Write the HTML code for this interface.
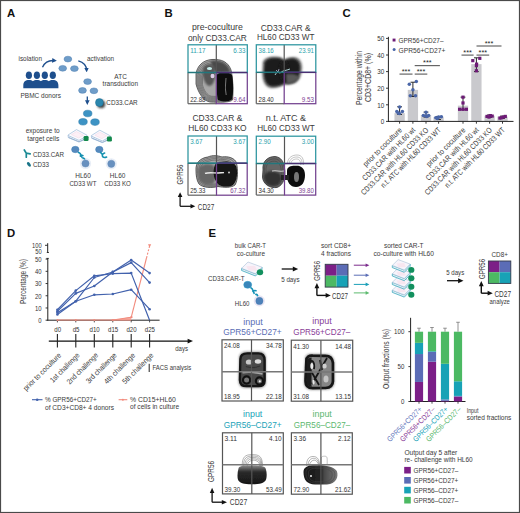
<!DOCTYPE html>
<html><head><meta charset="utf-8"><style>
html,body{margin:0;padding:0;background:#fff;}
svg{display:block;font-family:"Liberation Sans", sans-serif;}
</style></head><body>
<svg width="520" height="513" viewBox="0 0 520 513">
<defs><marker id="ahN" viewBox="0 0 10 10" refX="5" refY="5" markerWidth="3.6" markerHeight="3.6" orient="auto-start-reverse"><path d="M0,0 L10,5 L0,10 Z" fill="#1e4f8d"/></marker><filter id="shd" x="-50%" y="-50%" width="200%" height="200%"><feGaussianBlur stdDeviation="1"/></filter><filter id="bl1" x="-30%" y="-30%" width="160%" height="160%"><feGaussianBlur stdDeviation="1.2"/></filter><filter id="bl2" x="-30%" y="-30%" width="160%" height="160%"><feGaussianBlur stdDeviation="2.2"/></filter><filter id="bl05" x="-30%" y="-30%" width="160%" height="160%"><feGaussianBlur stdDeviation="0.6"/></filter><marker id="ahK" viewBox="0 0 10 10" refX="5" refY="5" markerWidth="3.4" markerHeight="3.4" orient="auto"><path d="M0,0 L10,5 L0,10 Z" fill="#111"/></marker><linearGradient id="gE3" x1="0" y1="0" x2="0" y2="1"><stop offset="0" stop-color="#8a8a8a"/><stop offset="0.35" stop-color="#2a2a2a"/><stop offset="1" stop-color="#161616"/></linearGradient><linearGradient id="gE4" x1="0" y1="0" x2="1" y2="0"><stop offset="0" stop-color="#1a1a1a"/><stop offset="0.5" stop-color="#222"/><stop offset="0.62" stop-color="#4a4a4a"/><stop offset="1" stop-color="#7a7a7a"/></linearGradient></defs>
<rect x="0" y="0" width="520" height="513" fill="#fff"/>
<rect x="0.5" y="0.5" width="519" height="512" fill="none" stroke="#4a4a4a" stroke-width="1.2"/>
<text x="7" y="13.2" font-size="11.34" fill="#111" font-weight="bold" dominant-baseline="central">A</text>
<text x="164.5" y="12.6" font-size="11.34" fill="#111" font-weight="bold" dominant-baseline="central">B</text>
<text x="342.6" y="12.8" font-size="11.34" fill="#111" font-weight="bold" dominant-baseline="central">C</text>
<text x="7" y="232.6" font-size="11.34" fill="#111" font-weight="bold" dominant-baseline="central">D</text>
<text x="208.5" y="232.5" font-size="11.34" fill="#111" font-weight="bold" dominant-baseline="central">E</text>
<text x="18.5" y="58.68" font-size="7.56" fill="#3a3a3a" textLength="23.5" lengthAdjust="spacingAndGlyphs" dominant-baseline="central">isolation</text>
<path d="M42.5,67.2 Q46,59.8 54.5,60.6" fill="none" stroke="#1e4f8d" stroke-width="1.3" marker-end="url(#ahN)"/>
<ellipse cx="28.9" cy="75.2" rx="3.1" ry="3.8" fill="#1e4f8d" stroke="none" stroke-width="0.5"/>
<ellipse cx="36.9" cy="75.2" rx="3.1" ry="3.8" fill="#1e4f8d" stroke="none" stroke-width="0.5"/>
<ellipse cx="44.8" cy="75.2" rx="3.1" ry="3.8" fill="#1e4f8d" stroke="none" stroke-width="0.5"/>
<ellipse cx="52.8" cy="75.2" rx="3.1" ry="3.8" fill="#1e4f8d" stroke="none" stroke-width="0.5"/>
<path d="M23.299999999999997,88.3 L23.299999999999997,85.5 C23.299999999999997,81.6 25.5,80.1 28.9,80.1 C32.3,80.1 34.5,81.6 34.5,85.5 L34.5,88.3 Z M31.299999999999997,88.3 L31.299999999999997,85.5 C31.299999999999997,81.6 33.5,80.1 36.9,80.1 C40.3,80.1 42.5,81.6 42.5,85.5 L42.5,88.3 Z M39.199999999999996,88.3 L39.199999999999996,85.5 C39.199999999999996,81.6 41.4,80.1 44.8,80.1 C48.199999999999996,80.1 50.4,81.6 50.4,85.5 L50.4,88.3 Z M47.199999999999996,88.3 L47.199999999999996,85.5 C47.199999999999996,81.6 49.4,80.1 52.8,80.1 C56.199999999999996,80.1 58.4,81.6 58.4,85.5 L58.4,88.3 Z " fill="#1e4f8d" stroke="none" stroke-width="1"/>
<text x="20.5" y="95.2" font-size="8.10" fill="#3a3a3a" textLength="40.5" lengthAdjust="spacingAndGlyphs" dominant-baseline="central">PBMC donors</text>
<ellipse cx="67.9" cy="59.1" rx="3.9" ry="2.9" fill="#6f9dc9" stroke="#4f7fb0" stroke-width="0.5"/>
<ellipse cx="62.7" cy="68.3" rx="3.9" ry="2.9" fill="#6f9dc9" stroke="#4f7fb0" stroke-width="0.5"/>
<ellipse cx="74.4" cy="68.6" rx="3.9" ry="2.9" fill="#6f9dc9" stroke="#4f7fb0" stroke-width="0.5"/>
<text x="87" y="58.48" font-size="7.56" fill="#3a3a3a" textLength="27" lengthAdjust="spacingAndGlyphs" dominant-baseline="central">activation</text>
<path d="M78.3,60.8 Q86.3,63 86.6,70" fill="none" stroke="#1e4f8d" stroke-width="1.3" marker-end="url(#ahN)"/>
<text x="120.6" y="76.6" font-size="8.10" fill="#3a3a3a" text-anchor="middle" textLength="12.5" lengthAdjust="spacingAndGlyphs" dominant-baseline="central">ATC</text>
<text x="102.6" y="83.94" font-size="8.10" fill="#3a3a3a" textLength="35.4" lengthAdjust="spacingAndGlyphs" dominant-baseline="central">transduction</text>
<ellipse cx="87.6" cy="81.6" rx="3.9" ry="2.9" fill="#6f9dc9" stroke="#4f7fb0" stroke-width="0.5"/>
<ellipse cx="82.5" cy="90.4" rx="3.9" ry="2.9" fill="#6f9dc9" stroke="#4f7fb0" stroke-width="0.5"/>
<ellipse cx="93.9" cy="90.8" rx="3.9" ry="2.9" fill="#6f9dc9" stroke="#4f7fb0" stroke-width="0.5"/>
<line x1="87.3" y1="96.5" x2="87.3" y2="102.6" stroke="#1e4f8d" stroke-width="1.3" marker-end="url(#ahN)"/>
<circle cx="101.2" cy="104.2" r="4.0" fill="#222" stroke="none" stroke-width="0.5" filter="url(#shd)" opacity="0.85"/>
<circle cx="99.4" cy="102.5" r="3.9" fill="#2b86ad" stroke="#1f6f94" stroke-width="0.5"/>
<text x="106.3" y="102.5" font-size="8.10" fill="#3a3a3a" textLength="31.4" lengthAdjust="spacingAndGlyphs" dominant-baseline="central">CD33.CAR</text>
<ellipse cx="87.7" cy="113.5" rx="4.3" ry="3.3" fill="#3d93c4" stroke="#2a7aa8" stroke-width="0.5"/>
<ellipse cx="83.0" cy="121.8" rx="4.3" ry="3.3" fill="#3d93c4" stroke="#2a7aa8" stroke-width="0.5"/>
<ellipse cx="95.0" cy="122.1" rx="4.3" ry="3.3" fill="#3d93c4" stroke="#2a7aa8" stroke-width="0.5"/>
<path d="M68,135 L76.5,129.6 L87,135.2 L87,138.5 L79,142 L68.3,137.6 Z" fill="#fbfbfe" stroke="#8fb0d4" stroke-width="0.6"/>
<path d="M68.3,135.6 L79,140.4 L87,136" fill="none" stroke="#7fa6cc" stroke-width="0.6"/>
<path d="M68.5,137.4 L79,141.8 L85,139" fill="none" stroke="#9ab5d2" stroke-width="1.0"/>
<path d="M71.5,134.6 L76.5,131.6 L83.5,135.2 L78.5,138 Z" fill="#fdf0f6" stroke="#efc8dc" stroke-width="0.35"/>
<rect x="83.6" y="136" width="5.0" height="5.0" fill="#13894c" stroke="none" stroke-width="1" rx="1.3"/>
<path d="M91.3,135.6 L99.8,130.2 L110.3,135.79999999999998 L110.3,139.1 L102.3,142.6 L91.6,138.2 Z" fill="#fbfbfe" stroke="#8fb0d4" stroke-width="0.6"/>
<path d="M91.6,136.2 L102.3,141.0 L110.3,136.6" fill="none" stroke="#7fa6cc" stroke-width="0.6"/>
<path d="M91.8,138.0 L102.3,142.4 L108.3,139.6" fill="none" stroke="#9ab5d2" stroke-width="1.0"/>
<path d="M94.8,135.2 L99.8,132.2 L106.8,135.79999999999998 L101.8,138.6 Z" fill="#fdf0f6" stroke="#efc8dc" stroke-width="0.35"/>
<rect x="106.89999999999999" y="136.6" width="5.0" height="5.0" fill="#13894c" stroke="none" stroke-width="1" rx="1.3"/>
<text x="25.7" y="130.97" font-size="7.56" fill="#3a3a3a" textLength="33.9" lengthAdjust="spacingAndGlyphs" dominant-baseline="central">exposure to</text>
<text x="27.3" y="138.88" font-size="7.56" fill="#3a3a3a" textLength="32" lengthAdjust="spacingAndGlyphs" dominant-baseline="central">target cells</text>
<path d="M24.3,150 L26.3,153.2 L30.2,153.8 M26.3,153.2 L26.3,157.2" fill="none" stroke="#1b8a94" stroke-width="1.7" stroke-linecap="round" stroke-linejoin="round"/>
<text x="33" y="154" font-size="8.10" fill="#3a3a3a" textLength="31" lengthAdjust="spacingAndGlyphs" dominant-baseline="central">CD33.CAR</text>
<ellipse cx="28.9" cy="164.4" rx="2.6" ry="1.5" fill="#1a7488" stroke="none" stroke-width="0.5" transform="rotate(52 28.9 164.4)"/>
<text x="33" y="164" font-size="8.10" fill="#3a3a3a" textLength="16" lengthAdjust="spacingAndGlyphs" dominant-baseline="central">CD33</text>
<circle cx="85.5" cy="163.5" r="5.6" fill="#e8eef7" stroke="none" stroke-width="0.5"/>
<circle cx="111.3" cy="163.8" r="5.6" fill="#e8eef7" stroke="none" stroke-width="0.5"/>
<ellipse cx="75.3" cy="149.5" rx="3.7" ry="3.2" fill="#5689bd" stroke="#3f7fb5" stroke-width="0.5"/>
<ellipse cx="99.3" cy="149.5" rx="3.7" ry="3.2" fill="#5689bd" stroke="#3f7fb5" stroke-width="0.5"/>
<circle cx="85.5" cy="163.5" r="3.6" fill="#6790bf" stroke="#5a84b4" stroke-width="0.4"/>
<circle cx="111.3" cy="163.8" r="3.6" fill="#6790bf" stroke="#5a84b4" stroke-width="0.4"/>
<path d="M77.8,152.3 Q80.5,152.8 81,155.5 L82.3,158 M79.8,156.5 Q81.5,154.6 83.5,155.8 M82.5,158.6 Q84,157.3 84.8,159.6" fill="none" stroke="#138fb0" stroke-width="1.5"/>
<path d="M100.6,152.4 L102.4,154.6 M104.6,153.0 Q101.6,154.0 102.6,156.6 Q104.2,158.2 106.6,157.0" fill="none" stroke="#1592b0" stroke-width="1.6" stroke-linecap="round"/>
<text x="83" y="175.6" font-size="8.10" fill="#3a3a3a" text-anchor="middle" textLength="15.5" lengthAdjust="spacingAndGlyphs" dominant-baseline="central">HL60</text>
<text x="82.9" y="183.1" font-size="8.10" fill="#3a3a3a" text-anchor="middle" textLength="27" lengthAdjust="spacingAndGlyphs" dominant-baseline="central">CD33 WT</text>
<text x="117.6" y="175.6" font-size="8.10" fill="#3a3a3a" text-anchor="middle" textLength="15.5" lengthAdjust="spacingAndGlyphs" dominant-baseline="central">HL60</text>
<text x="117.6" y="183.1" font-size="8.10" fill="#3a3a3a" text-anchor="middle" textLength="26.5" lengthAdjust="spacingAndGlyphs" dominant-baseline="central">CD33 KO</text>
<text x="217.4" y="26.02" font-size="9.72" fill="#3a3a3a" text-anchor="middle" textLength="51" lengthAdjust="spacingAndGlyphs" dominant-baseline="central">pre-coculture</text>
<text x="217.4" y="37" font-size="9.72" fill="#3a3a3a" text-anchor="middle" textLength="59" lengthAdjust="spacingAndGlyphs" dominant-baseline="central">only CD33.CAR</text>
<text x="285.7" y="27.2" font-size="9.72" fill="#3a3a3a" text-anchor="middle" textLength="50" lengthAdjust="spacingAndGlyphs" dominant-baseline="central">CD33.CAR &amp;</text>
<text x="285.7" y="36.6" font-size="9.72" fill="#3a3a3a" text-anchor="middle" textLength="57.5" lengthAdjust="spacingAndGlyphs" dominant-baseline="central">HL60 CD33 WT</text>
<text x="217.4" y="117.8" font-size="9.72" fill="#3a3a3a" text-anchor="middle" textLength="50" lengthAdjust="spacingAndGlyphs" dominant-baseline="central">CD33.CAR &amp;</text>
<text x="217.4" y="127.8" font-size="9.72" fill="#3a3a3a" text-anchor="middle" textLength="58.5" lengthAdjust="spacingAndGlyphs" dominant-baseline="central">HL60 CD33 KO</text>
<text x="285.9" y="117.8" font-size="9.72" fill="#3a3a3a" text-anchor="middle" textLength="40.5" lengthAdjust="spacingAndGlyphs" dominant-baseline="central">n.t. ATC &amp;</text>
<text x="285.9" y="127.8" font-size="9.72" fill="#3a3a3a" text-anchor="middle" textLength="57.5" lengthAdjust="spacingAndGlyphs" dominant-baseline="central">HL60 CD33 WT</text>
<g><path d="M196,74 C197,66 203,60 212,59.5 C222,59 228,62 231,70 C233,78 233.5,92 232.5,100 C230,102.5 220,102.5 210,102 C203,101 198,92 196,84 Z" fill="#a8a8a8" stroke="#444" stroke-width="0.8" filter="url(#bl05)"/><path d="M196,74 C197,66 203,60 212,59.5 C222,59 228,62 231,70 C233,78 233.5,92 232.5,100 C230,102.5 220,102.5 210,102 C203,101 198,92 196,84 Z" fill="none" stroke="#4a4a4a" stroke-width="0.53" transform="translate(214 86) scale(0.94) translate(-214 -86)"/><path d="M196,74 C197,66 203,60 212,59.5 C222,59 228,62 231,70 C233,78 233.5,92 232.5,100 C230,102.5 220,102.5 210,102 C203,101 198,92 196,84 Z" fill="none" stroke="#4a4a4a" stroke-width="0.57" transform="translate(214 86) scale(0.88) translate(-214 -86)"/><path d="M196,74 C197,66 203,60 212,59.5 C222,59 228,62 231,70 C233,78 233.5,92 232.5,100 C230,102.5 220,102.5 210,102 C203,101 198,92 196,84 Z" fill="none" stroke="#4a4a4a" stroke-width="0.61" transform="translate(214 86) scale(0.82) translate(-214 -86)"/><path d="M196,74 C197,66 203,60 212,59.5 C222,59 228,62 231,70 C233,78 233.5,92 232.5,100 C230,102.5 220,102.5 210,102 C203,101 198,92 196,84 Z" fill="none" stroke="#4a4a4a" stroke-width="0.66" transform="translate(214 86) scale(0.76) translate(-214 -86)"/><path d="M196,74 C197,66 203,60 212,59.5 C222,59 228,62 231,70 C233,78 233.5,92 232.5,100 C230,102.5 220,102.5 210,102 C203,101 198,92 196,84 Z" fill="none" stroke="#4a4a4a" stroke-width="0.71" transform="translate(214 86) scale(0.7) translate(-214 -86)"/><path d="M196,74 C197,66 203,60 212,59.5 C222,59 228,62 231,70 C233,78 233.5,92 232.5,100 C230,102.5 220,102.5 210,102 C203,101 198,92 196,84 Z" fill="none" stroke="#4a4a4a" stroke-width="0.78" transform="translate(214 86) scale(0.64) translate(-214 -86)"/><path d="M211,61 C221,60 228,63 230,72 L216,73 C213,69 211,65 211,61 Z" fill="#4a4a4a" filter="url(#bl1)"/><path d="M203,68 C206,63 213,63 215,69 C216,77 214,86 209,86 C204,84 202,76 203,68 Z" fill="#555" filter="url(#bl1)"/><path d="M216.5,75 C219,71.5 229,71 232,75 C233.5,82 233.5,94 232,99.5 C229,102 221,102 218,100 C216.5,95 216.5,85 216.5,75 Z" fill="#111" filter="url(#bl05)"/><path d="M226,78 L225.3,88 L226.2,95" stroke="#777" stroke-width="1" fill="none" filter="url(#bl05)"/><ellipse cx="209.5" cy="68.5" rx="2.6" ry="1.6" fill="#c4ecea" filter="url(#bl05)"/><ellipse cx="212.5" cy="76" rx="2" ry="2.2" fill="#dccde6" filter="url(#bl05)"/></g>
<line x1="188" y1="72.5" x2="188" y2="103.69999999999999" stroke="#666" stroke-width="1.25"/>
<line x1="188" y1="103.69999999999999" x2="216.3" y2="103.69999999999999" stroke="#666" stroke-width="1.25"/>
<line x1="216.3" y1="44.8" x2="216.3" y2="72.5" stroke="#555" stroke-width="1.2"/>
<rect x="216.3" y="72.5" width="31.0" height="31.19999999999999" fill="none" stroke="#73418f" stroke-width="1.25"/>
<rect x="188" y="44.8" width="59.3" height="27.700000000000003" fill="none" stroke="#2b959f" stroke-width="1.25"/>
<line x1="188" y1="72.5" x2="216.3" y2="72.5" stroke="#22767c" stroke-width="1.3"/>
<line x1="216.3" y1="72.5" x2="247.3" y2="72.5" stroke="#4a2f72" stroke-width="1.3"/>
<text x="190.2" y="50.599999999999994" font-size="7.13" fill="#2a9fac" textLength="15.25" lengthAdjust="spacingAndGlyphs" dominant-baseline="central">11.17</text>
<text x="245.5" y="50.599999999999994" font-size="7.13" fill="#2a9fac" text-anchor="end" textLength="12.2" lengthAdjust="spacingAndGlyphs" dominant-baseline="central">6.33</text>
<text x="190.2" y="99.49999999999999" font-size="7.13" fill="#333" textLength="15.25" lengthAdjust="spacingAndGlyphs" dominant-baseline="central">22.88</text>
<text x="245.5" y="99.49999999999999" font-size="7.13" fill="#7e3f93" text-anchor="end" textLength="12.2" lengthAdjust="spacingAndGlyphs" dominant-baseline="central">9.64</text>
<g><path d="M262.5,64 C262,58.5 268,56.5 274,56.5 C279,56 283,57.5 284.5,60 C286,57.5 291,56.5 295,57 C300,58 302.5,62 302.3,68 C302,74 300,79 297,82 C294,84.5 289,85 285,84.5 C282,86.5 277,88.5 271,88.2 C265,87.5 262.5,82 262,74 Z" fill="#8a8a8a" filter="url(#bl1)"/><path d="M262.5,64 C262,58.5 268,56.5 274,56.5 C279,56 283,57.5 284.5,60 C286,57.5 291,56.5 295,57 C300,58 302.5,62 302.3,68 C302,74 300,79 297,82 C294,84.5 289,85 285,84.5 C282,86.5 277,88.5 271,88.2 C265,87.5 262.5,82 262,74 Z" fill="#1a1a1a" transform="translate(281 72) scale(0.9) translate(-281 -72)" filter="url(#bl1)"/><ellipse cx="284" cy="70.5" rx="5" ry="10" fill="#1a1a1a" filter="url(#bl1)"/><path d="M286,74 C291,73 297,74 299.5,77 C297,82 291,84 286.5,83.5 Z" fill="#5a5a5a" filter="url(#bl1)"/><path d="M275,75 l2,-3 l3,1 l3,-2 l4,-1 l3,-1" stroke="#b5dede" stroke-width="0.9" fill="none" filter="url(#bl05)"/><path d="M276,70 l2,2 l1,-3" stroke="#cce" stroke-width="0.7" fill="none" filter="url(#bl05)"/></g>
<line x1="256.3" y1="72.4" x2="256.3" y2="103.69999999999999" stroke="#666" stroke-width="1.25"/>
<line x1="256.3" y1="103.69999999999999" x2="284.2" y2="103.69999999999999" stroke="#666" stroke-width="1.25"/>
<line x1="284.2" y1="44.8" x2="284.2" y2="72.4" stroke="#555" stroke-width="1.2"/>
<rect x="284.2" y="72.4" width="31.600000000000023" height="31.299999999999983" fill="none" stroke="#73418f" stroke-width="1.25"/>
<rect x="256.3" y="44.8" width="59.5" height="27.60000000000001" fill="none" stroke="#2b959f" stroke-width="1.25"/>
<line x1="256.3" y1="72.4" x2="284.2" y2="72.4" stroke="#22767c" stroke-width="1.3"/>
<line x1="284.2" y1="72.4" x2="315.8" y2="72.4" stroke="#4a2f72" stroke-width="1.3"/>
<text x="258.5" y="50.599999999999994" font-size="7.13" fill="#2a9fac" textLength="15.25" lengthAdjust="spacingAndGlyphs" dominant-baseline="central">38.16</text>
<text x="314.0" y="50.599999999999994" font-size="7.13" fill="#2a9fac" text-anchor="end" textLength="15.25" lengthAdjust="spacingAndGlyphs" dominant-baseline="central">23.91</text>
<text x="258.5" y="99.49999999999999" font-size="7.13" fill="#333" textLength="15.25" lengthAdjust="spacingAndGlyphs" dominant-baseline="central">28.40</text>
<text x="314.0" y="99.49999999999999" font-size="7.13" fill="#7e3f93" text-anchor="end" textLength="12.2" lengthAdjust="spacingAndGlyphs" dominant-baseline="central">9.53</text>
<g><path d="M196,170 C195.5,163 200,158 208,157 C212,155 218,155.5 222,157 C228,156 235,158 236.5,163 C238,170 238,180 235,185 C231,188 224,187.5 218,186.5 C212,188 203,188 199,184 C196.5,180 196,175 196,170 Z" fill="#a5a5a5" stroke="#333" stroke-width="0.8" filter="url(#bl05)"/><path d="M196,170 C195.5,163 200,158 208,157 C212,155 218,155.5 222,157 C228,156 235,158 236.5,163 C238,170 238,180 235,185 C231,188 224,187.5 218,186.5 C212,188 203,188 199,184 C196.5,180 196,175 196,170 Z" fill="none" stroke="#444" stroke-width="0.54" transform="translate(214 174) scale(0.92) translate(-214 -174)"/><path d="M196,170 C195.5,163 200,158 208,157 C212,155 218,155.5 222,157 C228,156 235,158 236.5,163 C238,170 238,180 235,185 C231,188 224,187.5 218,186.5 C212,188 203,188 199,184 C196.5,180 196,175 196,170 Z" fill="none" stroke="#444" stroke-width="0.60" transform="translate(214 174) scale(0.84) translate(-214 -174)"/><path d="M196,170 C195.5,163 200,158 208,157 C212,155 218,155.5 222,157 C228,156 235,158 236.5,163 C238,170 238,180 235,185 C231,188 224,187.5 218,186.5 C212,188 203,188 199,184 C196.5,180 196,175 196,170 Z" fill="none" stroke="#444" stroke-width="0.66" transform="translate(214 174) scale(0.76) translate(-214 -174)"/><path d="M198,171 C199,164 207,163 213,165 C217,169 217,180 213,184 C207,186 200,184 198.5,178 Z" fill="#666" filter="url(#bl1)"/><path d="M215.5,164 C223,160 234,161 236.5,167 C238,175 236.5,184 231,186 C224,187.5 218,186 216,181 C213,177 213,168 215.5,164 Z" fill="#121212" filter="url(#bl05)"/><path d="M205,173.5 C210,171.5 216,174 224,172.5" stroke="#e8e8e8" stroke-width="1.4" fill="none" filter="url(#bl05)"/><path d="M208,158 C214,156 222,158 230,158.5" stroke="#888" stroke-width="0.6" fill="none"/><circle cx="229" cy="172.5" r="1" fill="#ccc"/></g>
<line x1="188" y1="163.2" x2="188" y2="195.2" stroke="#666" stroke-width="1.25"/>
<line x1="188" y1="195.2" x2="216.5" y2="195.2" stroke="#666" stroke-width="1.25"/>
<line x1="216.5" y1="136" x2="216.5" y2="163.2" stroke="#555" stroke-width="1.2"/>
<rect x="216.5" y="163.2" width="30.69999999999999" height="32.0" fill="none" stroke="#73418f" stroke-width="1.25"/>
<rect x="188" y="136" width="59.2" height="27.19999999999999" fill="none" stroke="#2b959f" stroke-width="1.25"/>
<line x1="188" y1="163.2" x2="216.5" y2="163.2" stroke="#22767c" stroke-width="1.3"/>
<line x1="216.5" y1="163.2" x2="247.2" y2="163.2" stroke="#4a2f72" stroke-width="1.3"/>
<text x="190.2" y="141.8" font-size="7.13" fill="#2a9fac" textLength="12.2" lengthAdjust="spacingAndGlyphs" dominant-baseline="central">3.67</text>
<text x="245.39999999999998" y="141.8" font-size="7.13" fill="#2a9fac" text-anchor="end" textLength="12.2" lengthAdjust="spacingAndGlyphs" dominant-baseline="central">3.67</text>
<text x="190.2" y="191.0" font-size="7.13" fill="#333" textLength="15.25" lengthAdjust="spacingAndGlyphs" dominant-baseline="central">25.33</text>
<text x="245.39999999999998" y="191.0" font-size="7.13" fill="#7e3f93" text-anchor="end" textLength="15.25" lengthAdjust="spacingAndGlyphs" dominant-baseline="central">67.32</text>
<g><path d="M263,170 C262,161 268,156.5 275,156.5 C281,157 284,162 284.5,168 C286,176 284,185 277,187.5 C270,188.5 263,184 262.5,177 Z" fill="#666" stroke="#333" stroke-width="0.8" filter="url(#bl05)"/><path d="M263,170 C262,161 268,156.5 275,156.5 C281,157 284,162 284.5,168 C286,176 284,185 277,187.5 C270,188.5 263,184 262.5,177 Z" fill="none" stroke="#444" stroke-width="0.71" transform="translate(273 172) scale(0.85) translate(-273 -172)"/><path d="M263,170 C262,161 268,156.5 275,156.5 C281,157 284,162 284.5,168 C286,176 284,185 277,187.5 C270,188.5 263,184 262.5,177 Z" fill="none" stroke="#444" stroke-width="0.86" transform="translate(273 172) scale(0.7) translate(-273 -172)"/><path d="M264,176 C266,170 274,170 280,174 C283,180 280,186 273,186 C267,186 264,182 264,176 Z" fill="#333" filter="url(#bl1)"/><path d="M287.5,163 C288,157 293,155 297,155 C302,155 304,159 303.5,165" fill="none" stroke="#888" stroke-width="0.50" transform="translate(296 165) scale(1.0) translate(-296 -165)"/><path d="M287.5,163 C288,157 293,155 297,155 C302,155 304,159 303.5,165" fill="none" stroke="#888" stroke-width="0.62" transform="translate(296 165) scale(0.8) translate(-296 -165)"/><path d="M287.5,163 C288,157 293,155 297,155 C302,155 304,159 303.5,165" fill="none" stroke="#888" stroke-width="0.83" transform="translate(296 165) scale(0.6) translate(-296 -165)"/><path d="M287,171 C287,166 292,165.5 296,165.7 C301,165.5 305,168 305,175 C305,182 302,187 296,187 C290,187 287,182 287,176 Z" fill="#111" filter="url(#bl05)"/><ellipse cx="296.5" cy="177" rx="2.5" ry="5" fill="#777" filter="url(#bl05)"/><rect x="281" y="175" width="8" height="5" fill="#222" filter="url(#bl05)"/><path d="M272,171 C276,170 280,172 284,171" stroke="#ccc" stroke-width="1" fill="none" filter="url(#bl05)"/></g>
<line x1="256.3" y1="163.5" x2="256.3" y2="195.1" stroke="#666" stroke-width="1.25"/>
<line x1="256.3" y1="195.1" x2="284.5" y2="195.1" stroke="#666" stroke-width="1.25"/>
<line x1="284.5" y1="136.2" x2="284.5" y2="163.5" stroke="#555" stroke-width="1.2"/>
<rect x="284.5" y="163.5" width="31.19999999999999" height="31.599999999999994" fill="none" stroke="#73418f" stroke-width="1.25"/>
<rect x="256.3" y="136.2" width="59.4" height="27.30000000000001" fill="none" stroke="#2b959f" stroke-width="1.25"/>
<line x1="256.3" y1="163.5" x2="284.5" y2="163.5" stroke="#22767c" stroke-width="1.3"/>
<line x1="284.5" y1="163.5" x2="315.7" y2="163.5" stroke="#4a2f72" stroke-width="1.3"/>
<text x="258.5" y="142.0" font-size="7.13" fill="#2a9fac" textLength="12.2" lengthAdjust="spacingAndGlyphs" dominant-baseline="central">2.90</text>
<text x="313.9" y="142.0" font-size="7.13" fill="#2a9fac" text-anchor="end" textLength="12.2" lengthAdjust="spacingAndGlyphs" dominant-baseline="central">3.00</text>
<text x="258.5" y="190.9" font-size="7.13" fill="#333" textLength="15.25" lengthAdjust="spacingAndGlyphs" dominant-baseline="central">34.30</text>
<text x="313.9" y="190.9" font-size="7.13" fill="#7e3f93" text-anchor="end" textLength="15.25" lengthAdjust="spacingAndGlyphs" dominant-baseline="central">39.80</text>
<text x="180" y="174.6" font-size="8.64" fill="#3a3a3a" text-anchor="middle" textLength="20" lengthAdjust="spacingAndGlyphs" transform="rotate(-90 180 174.6)" dominant-baseline="central">GPR56</text>
<line x1="180.1" y1="195.5" x2="180.1" y2="206.3" stroke="#111" stroke-width="1.25"/>
<path d="M180.1,192.2 L177.8,197 L182.4,197 Z" fill="#111" stroke="none" stroke-width="1"/>
<line x1="180.1" y1="206.3" x2="191.5" y2="206.3" stroke="#111" stroke-width="1.25"/>
<path d="M195.3,206.3 L190.5,204 L190.5,208.6 Z" fill="#111" stroke="none" stroke-width="1"/>
<text x="197.8" y="206.2" font-size="9.50" fill="#3a3a3a" textLength="16.4" lengthAdjust="spacingAndGlyphs" dominant-baseline="central">CD27</text>
<rect x="394.45000000000005" y="113.10000000000001" width="10.3" height="8.299999999999997" fill="#c9c9cd" stroke="none" stroke-width="1"/>
<rect x="407.75" y="89.86000000000001" width="10.3" height="31.539999999999992" fill="#c9c9cd" stroke="none" stroke-width="1"/>
<rect x="420.85" y="114.926" width="10.3" height="6.474000000000004" fill="#c9c9cd" stroke="none" stroke-width="1"/>
<rect x="433.45000000000005" y="117.084" width="10.3" height="4.3160000000000025" fill="#c9c9cd" stroke="none" stroke-width="1"/>
<rect x="457.85" y="105.63000000000001" width="10.3" height="15.769999999999996" fill="#c9c9cd" stroke="none" stroke-width="1"/>
<rect x="471.25" y="64.13000000000001" width="10.3" height="57.269999999999996" fill="#c9c9cd" stroke="none" stroke-width="1"/>
<rect x="484.45000000000005" y="115.756" width="10.3" height="5.6440000000000055" fill="#c9c9cd" stroke="none" stroke-width="1"/>
<rect x="497.35" y="116.58600000000001" width="10.3" height="4.813999999999993" fill="#c9c9cd" stroke="none" stroke-width="1"/>
<line x1="399.6" y1="114.42800000000001" x2="399.6" y2="106.792" stroke="#2a2a2a" stroke-width="1.0"/>
<line x1="397.20000000000005" y1="106.792" x2="402.0" y2="106.792" stroke="#2a2a2a" stroke-width="1.0"/>
<line x1="397.20000000000005" y1="114.42800000000001" x2="402.0" y2="114.42800000000001" stroke="#2a2a2a" stroke-width="1.0"/>
<circle cx="396.8" cy="111.44000000000001" r="1.75" fill="#4a66a8" stroke="none" stroke-width="0.5"/>
<circle cx="402.40000000000003" cy="111.44000000000001" r="1.75" fill="#4a66a8" stroke="none" stroke-width="0.5"/>
<circle cx="399.40000000000003" cy="113.432" r="1.75" fill="#4a66a8" stroke="none" stroke-width="0.5"/>
<circle cx="399.6" cy="106.95800000000001" r="1.75" fill="#4a66a8" stroke="none" stroke-width="0.5"/>
<circle cx="398.20000000000005" cy="113.10000000000001" r="1.75" fill="#4a66a8" stroke="none" stroke-width="0.5"/>
<line x1="412.9" y1="96.5" x2="412.9" y2="82.224" stroke="#2a2a2a" stroke-width="1.0"/>
<line x1="410.5" y1="82.224" x2="415.29999999999995" y2="82.224" stroke="#2a2a2a" stroke-width="1.0"/>
<line x1="410.5" y1="96.5" x2="415.29999999999995" y2="96.5" stroke="#2a2a2a" stroke-width="1.0"/>
<circle cx="409.29999999999995" cy="84.21600000000001" r="1.75" fill="#4a66a8" stroke="none" stroke-width="0.5"/>
<circle cx="416.29999999999995" cy="81.56" r="1.75" fill="#4a66a8" stroke="none" stroke-width="0.5"/>
<circle cx="410.29999999999995" cy="95.67" r="1.75" fill="#4a66a8" stroke="none" stroke-width="0.5"/>
<circle cx="415.5" cy="95.67" r="1.75" fill="#4a66a8" stroke="none" stroke-width="0.5"/>
<circle cx="412.9" cy="89.86000000000001" r="1.75" fill="#4a66a8" stroke="none" stroke-width="0.5"/>
<line x1="426.0" y1="117.084" x2="426.0" y2="112.10400000000001" stroke="#2a2a2a" stroke-width="1.0"/>
<line x1="423.6" y1="112.10400000000001" x2="428.4" y2="112.10400000000001" stroke="#2a2a2a" stroke-width="1.0"/>
<line x1="423.6" y1="117.084" x2="428.4" y2="117.084" stroke="#2a2a2a" stroke-width="1.0"/>
<circle cx="423.4" cy="115.59" r="1.75" fill="#4a66a8" stroke="none" stroke-width="0.5"/>
<circle cx="428.6" cy="115.59" r="1.75" fill="#4a66a8" stroke="none" stroke-width="0.5"/>
<circle cx="426.0" cy="115.92200000000001" r="1.75" fill="#4a66a8" stroke="none" stroke-width="0.5"/>
<circle cx="426.0" cy="112.27000000000001" r="1.75" fill="#4a66a8" stroke="none" stroke-width="0.5"/>
<circle cx="426.8" cy="116.42" r="1.75" fill="#4a66a8" stroke="none" stroke-width="0.5"/>
<line x1="438.6" y1="119.408" x2="438.6" y2="116.42" stroke="#2a2a2a" stroke-width="1.0"/>
<line x1="436.20000000000005" y1="116.42" x2="441.0" y2="116.42" stroke="#2a2a2a" stroke-width="1.0"/>
<line x1="436.20000000000005" y1="119.408" x2="441.0" y2="119.408" stroke="#2a2a2a" stroke-width="1.0"/>
<circle cx="435.8" cy="117.748" r="1.75" fill="#4a66a8" stroke="none" stroke-width="0.5"/>
<circle cx="441.40000000000003" cy="116.75200000000001" r="1.75" fill="#4a66a8" stroke="none" stroke-width="0.5"/>
<circle cx="438.6" cy="117.084" r="1.75" fill="#4a66a8" stroke="none" stroke-width="0.5"/>
<circle cx="437.40000000000003" cy="118.412" r="1.75" fill="#4a66a8" stroke="none" stroke-width="0.5"/>
<line x1="463.0" y1="109.78" x2="463.0" y2="97.16400000000002" stroke="#2a2a2a" stroke-width="1.0"/>
<line x1="460.6" y1="97.16400000000002" x2="465.4" y2="97.16400000000002" stroke="#2a2a2a" stroke-width="1.0"/>
<line x1="460.6" y1="109.78" x2="465.4" y2="109.78" stroke="#2a2a2a" stroke-width="1.0"/>
<rect x="458.0" y="107.68200000000002" width="3.2" height="3.2" fill="#6d1b76" stroke="none" stroke-width="1"/>
<rect x="464.79999999999995" y="107.68200000000002" width="3.2" height="3.2" fill="#6d1b76" stroke="none" stroke-width="1"/>
<rect x="461.4" y="101.37400000000001" width="3.2" height="3.2" fill="#6d1b76" stroke="none" stroke-width="1"/>
<rect x="461.4" y="95.56400000000002" width="3.2" height="3.2" fill="#6d1b76" stroke="none" stroke-width="1"/>
<rect x="461.4" y="107.68200000000002" width="3.2" height="3.2" fill="#6d1b76" stroke="none" stroke-width="1"/>
<line x1="476.4" y1="71.60000000000001" x2="476.4" y2="57.82200000000002" stroke="#2a2a2a" stroke-width="1.0"/>
<line x1="474.0" y1="57.82200000000002" x2="478.79999999999995" y2="57.82200000000002" stroke="#2a2a2a" stroke-width="1.0"/>
<line x1="474.0" y1="71.60000000000001" x2="478.79999999999995" y2="71.60000000000001" stroke="#2a2a2a" stroke-width="1.0"/>
<rect x="471.19999999999993" y="59.044000000000004" width="3.2" height="3.2" fill="#6d1b76" stroke="none" stroke-width="1"/>
<rect x="478.19999999999993" y="56.720000000000006" width="3.2" height="3.2" fill="#6d1b76" stroke="none" stroke-width="1"/>
<rect x="474.79999999999995" y="64.02400000000002" width="3.2" height="3.2" fill="#6d1b76" stroke="none" stroke-width="1"/>
<rect x="474.79999999999995" y="69.17000000000002" width="3.2" height="3.2" fill="#6d1b76" stroke="none" stroke-width="1"/>
<rect x="474.99999999999994" y="62.53000000000001" width="3.2" height="3.2" fill="#6d1b76" stroke="none" stroke-width="1"/>
<line x1="489.6" y1="117.41600000000001" x2="489.6" y2="114.926" stroke="#2a2a2a" stroke-width="1.0"/>
<line x1="487.20000000000005" y1="114.926" x2="492.0" y2="114.926" stroke="#2a2a2a" stroke-width="1.0"/>
<line x1="487.20000000000005" y1="117.41600000000001" x2="492.0" y2="117.41600000000001" stroke="#2a2a2a" stroke-width="1.0"/>
<rect x="485.4" y="114.82000000000001" width="3.2" height="3.2" fill="#6d1b76" stroke="none" stroke-width="1"/>
<rect x="490.6" y="114.48800000000001" width="3.2" height="3.2" fill="#6d1b76" stroke="none" stroke-width="1"/>
<rect x="488.6" y="113.99000000000001" width="3.2" height="3.2" fill="#6d1b76" stroke="none" stroke-width="1"/>
<rect x="487.4" y="115.48400000000001" width="3.2" height="3.2" fill="#6d1b76" stroke="none" stroke-width="1"/>
<line x1="502.5" y1="118.412" x2="502.5" y2="116.08800000000001" stroke="#2a2a2a" stroke-width="1.0"/>
<line x1="500.1" y1="116.08800000000001" x2="504.9" y2="116.08800000000001" stroke="#2a2a2a" stroke-width="1.0"/>
<line x1="500.1" y1="118.412" x2="504.9" y2="118.412" stroke="#2a2a2a" stroke-width="1.0"/>
<rect x="498.29999999999995" y="116.48000000000002" width="3.2" height="3.2" fill="#6d1b76" stroke="none" stroke-width="1"/>
<rect x="501.7" y="115.48400000000001" width="3.2" height="3.2" fill="#6d1b76" stroke="none" stroke-width="1"/>
<rect x="503.7" y="114.82000000000001" width="3.2" height="3.2" fill="#6d1b76" stroke="none" stroke-width="1"/>
<rect x="499.9" y="116.14800000000001" width="3.2" height="3.2" fill="#6d1b76" stroke="none" stroke-width="1"/>
<line x1="388.4" y1="36.8" x2="388.4" y2="121.9" stroke="#222" stroke-width="1"/>
<line x1="388.0" y1="121.4" x2="513.5" y2="121.4" stroke="#222" stroke-width="1"/>
<line x1="386.0" y1="121.4" x2="388.4" y2="121.4" stroke="#222" stroke-width="0.9"/>
<text x="384.2" y="121.60000000000001" font-size="7.78" fill="#333" text-anchor="end" textLength="3.5" lengthAdjust="spacingAndGlyphs" dominant-baseline="central">0</text>
<line x1="386.0" y1="104.80000000000001" x2="388.4" y2="104.80000000000001" stroke="#222" stroke-width="0.9"/>
<text x="384.2" y="105.00000000000001" font-size="7.78" fill="#333" text-anchor="end" textLength="7.0" lengthAdjust="spacingAndGlyphs" dominant-baseline="central">10</text>
<line x1="386.0" y1="88.20000000000002" x2="388.4" y2="88.20000000000002" stroke="#222" stroke-width="0.9"/>
<text x="384.2" y="88.40000000000002" font-size="7.78" fill="#333" text-anchor="end" textLength="7.0" lengthAdjust="spacingAndGlyphs" dominant-baseline="central">20</text>
<line x1="386.0" y1="71.60000000000001" x2="388.4" y2="71.60000000000001" stroke="#222" stroke-width="0.9"/>
<text x="384.2" y="71.80000000000001" font-size="7.78" fill="#333" text-anchor="end" textLength="7.0" lengthAdjust="spacingAndGlyphs" dominant-baseline="central">30</text>
<line x1="386.0" y1="55.000000000000014" x2="388.4" y2="55.000000000000014" stroke="#222" stroke-width="0.9"/>
<text x="384.2" y="55.20000000000002" font-size="7.78" fill="#333" text-anchor="end" textLength="7.0" lengthAdjust="spacingAndGlyphs" dominant-baseline="central">40</text>
<line x1="386.0" y1="38.400000000000006" x2="388.4" y2="38.400000000000006" stroke="#222" stroke-width="0.9"/>
<text x="384.2" y="38.60000000000001" font-size="7.78" fill="#333" text-anchor="end" textLength="7.0" lengthAdjust="spacingAndGlyphs" dominant-baseline="central">50</text>
<line x1="399.6" y1="121.4" x2="399.6" y2="123.7" stroke="#222" stroke-width="0.9"/>
<line x1="412.9" y1="121.4" x2="412.9" y2="123.7" stroke="#222" stroke-width="0.9"/>
<line x1="426.0" y1="121.4" x2="426.0" y2="123.7" stroke="#222" stroke-width="0.9"/>
<line x1="438.6" y1="121.4" x2="438.6" y2="123.7" stroke="#222" stroke-width="0.9"/>
<line x1="463.0" y1="121.4" x2="463.0" y2="123.7" stroke="#222" stroke-width="0.9"/>
<line x1="476.4" y1="121.4" x2="476.4" y2="123.7" stroke="#222" stroke-width="0.9"/>
<line x1="489.6" y1="121.4" x2="489.6" y2="123.7" stroke="#222" stroke-width="0.9"/>
<line x1="502.5" y1="121.4" x2="502.5" y2="123.7" stroke="#222" stroke-width="0.9"/>
<text x="358.8" y="78" font-size="8.42" fill="#3a3a3a" text-anchor="middle" textLength="54" lengthAdjust="spacingAndGlyphs" transform="rotate(-90 358.8 78)" dominant-baseline="central">Percentage within</text>
<text x="368.0" y="77.5" font-size="8.42" fill="#3a3a3a" text-anchor="middle" textLength="49" lengthAdjust="spacingAndGlyphs" transform="rotate(-90 368.0 77.5)" dominant-baseline="central">CD3+CD8+ (%)</text>
<rect x="392.6" y="38.6" width="2.9" height="2.9" fill="#6d1b76" stroke="none" stroke-width="1"/>
<circle cx="394.1" cy="49.6" r="1.5" fill="#4a66a8" stroke="none" stroke-width="0.5"/>
<text x="398.5" y="40.1" font-size="7.88" fill="#3a3a3a" textLength="45" lengthAdjust="spacingAndGlyphs" dominant-baseline="central">GPR56+CD27–</text>
<text x="398.5" y="50.2" font-size="7.88" fill="#3a3a3a" textLength="46.8" lengthAdjust="spacingAndGlyphs" dominant-baseline="central">GPR56+CD27+</text>
<line x1="399.5" y1="74.1" x2="412.5" y2="74.1" stroke="#666" stroke-width="1.2"/>
<text x="406.0" y="71.1" font-size="7.56" fill="#222" text-anchor="middle" textLength="8.5" lengthAdjust="spacingAndGlyphs" dominant-baseline="central">***</text>
<line x1="414.7" y1="74.1" x2="427.3" y2="74.1" stroke="#666" stroke-width="1.2"/>
<text x="421.0" y="71.1" font-size="7.56" fill="#222" text-anchor="middle" textLength="8.5" lengthAdjust="spacingAndGlyphs" dominant-baseline="central">***</text>
<line x1="414.7" y1="65.6" x2="439.9" y2="65.6" stroke="#666" stroke-width="1.2"/>
<text x="427.29999999999995" y="62.599999999999994" font-size="7.56" fill="#222" text-anchor="middle" textLength="8.5" lengthAdjust="spacingAndGlyphs" dominant-baseline="central">***</text>
<line x1="461.5" y1="55.1" x2="473.6" y2="55.1" stroke="#666" stroke-width="1.2"/>
<text x="467.55" y="52.1" font-size="7.56" fill="#222" text-anchor="middle" textLength="8.5" lengthAdjust="spacingAndGlyphs" dominant-baseline="central">***</text>
<line x1="476.5" y1="55.1" x2="489.2" y2="55.1" stroke="#666" stroke-width="1.2"/>
<text x="482.85" y="52.1" font-size="7.56" fill="#222" text-anchor="middle" textLength="8.5" lengthAdjust="spacingAndGlyphs" dominant-baseline="central">***</text>
<line x1="476.5" y1="46.0" x2="501.5" y2="46.0" stroke="#666" stroke-width="1.2"/>
<text x="489.0" y="43.0" font-size="7.56" fill="#222" text-anchor="middle" textLength="8.5" lengthAdjust="spacingAndGlyphs" dominant-baseline="central">***</text>
<text x="400.8" y="128.8" font-size="7.78" fill="#3a3a3a" text-anchor="end" textLength="51.8" lengthAdjust="spacingAndGlyphs" transform="rotate(-45 400.8 128.8)" dominant-baseline="central">prior to coculture</text>
<text x="414.09999999999997" y="128.8" font-size="7.78" fill="#3a3a3a" text-anchor="end" textLength="71.4" lengthAdjust="spacingAndGlyphs" transform="rotate(-45 414.09999999999997 128.8)" dominant-baseline="central">CD33.CAR with HL60 wt</text>
<text x="427.2" y="128.8" font-size="7.78" fill="#3a3a3a" text-anchor="end" textLength="91.8" lengthAdjust="spacingAndGlyphs" transform="rotate(-45 427.2 128.8)" dominant-baseline="central">CD33.CAR with HL60 CD33 KO</text>
<text x="439.8" y="128.8" font-size="7.78" fill="#3a3a3a" text-anchor="end" textLength="81.6" lengthAdjust="spacingAndGlyphs" transform="rotate(-45 439.8 128.8)" dominant-baseline="central">n.t. ATC with HL60 CD33 WT</text>
<text x="464.2" y="128.8" font-size="7.78" fill="#3a3a3a" text-anchor="end" textLength="51.8" lengthAdjust="spacingAndGlyphs" transform="rotate(-45 464.2 128.8)" dominant-baseline="central">prior to coculture</text>
<text x="477.59999999999997" y="128.8" font-size="7.78" fill="#3a3a3a" text-anchor="end" textLength="71.4" lengthAdjust="spacingAndGlyphs" transform="rotate(-45 477.59999999999997 128.8)" dominant-baseline="central">CD33.CAR with HL60 wt</text>
<text x="490.8" y="128.8" font-size="7.78" fill="#3a3a3a" text-anchor="end" textLength="91.8" lengthAdjust="spacingAndGlyphs" transform="rotate(-45 490.8 128.8)" dominant-baseline="central">CD33.CAR with HL60 CD33 KO</text>
<text x="503.7" y="128.8" font-size="7.78" fill="#3a3a3a" text-anchor="end" textLength="81.6" lengthAdjust="spacingAndGlyphs" transform="rotate(-45 503.7 128.8)" dominant-baseline="central">n.t. ATC with HL60 CD33 WT</text>
<line x1="47.8" y1="258.4" x2="47.8" y2="320.7" stroke="#222" stroke-width="1"/>
<line x1="46.4" y1="258.4" x2="48.8" y2="258.4" stroke="#222" stroke-width="0.9"/>
<line x1="47.3" y1="320.2" x2="159.6" y2="320.2" stroke="#222" stroke-width="1"/>
<line x1="45.6" y1="320.2" x2="47.8" y2="320.2" stroke="#222" stroke-width="0.9"/>
<text x="41.6" y="320.5" font-size="7.56" fill="#333" text-anchor="end" textLength="3.3" lengthAdjust="spacingAndGlyphs" dominant-baseline="central">0</text>
<line x1="45.6" y1="307.98" x2="47.8" y2="307.98" stroke="#222" stroke-width="0.9"/>
<text x="41.6" y="308.28000000000003" font-size="7.56" fill="#333" text-anchor="end" textLength="6.6" lengthAdjust="spacingAndGlyphs" dominant-baseline="central">10</text>
<line x1="45.6" y1="295.76" x2="47.8" y2="295.76" stroke="#222" stroke-width="0.9"/>
<text x="41.6" y="296.06" font-size="7.56" fill="#333" text-anchor="end" textLength="6.6" lengthAdjust="spacingAndGlyphs" dominant-baseline="central">20</text>
<line x1="45.6" y1="283.53999999999996" x2="47.8" y2="283.53999999999996" stroke="#222" stroke-width="0.9"/>
<text x="41.6" y="283.84" font-size="7.56" fill="#333" text-anchor="end" textLength="6.6" lengthAdjust="spacingAndGlyphs" dominant-baseline="central">30</text>
<line x1="45.6" y1="271.32" x2="47.8" y2="271.32" stroke="#222" stroke-width="0.9"/>
<text x="41.6" y="271.62" font-size="7.56" fill="#333" text-anchor="end" textLength="6.6" lengthAdjust="spacingAndGlyphs" dominant-baseline="central">40</text>
<line x1="45.6" y1="259.09999999999997" x2="47.8" y2="259.09999999999997" stroke="#222" stroke-width="0.9"/>
<text x="41.6" y="259.4" font-size="7.56" fill="#333" text-anchor="end" textLength="6.6" lengthAdjust="spacingAndGlyphs" dominant-baseline="central">50</text>
<line x1="47.7" y1="243.2" x2="47.7" y2="252.6" stroke="#222" stroke-width="1"/>
<line x1="45.0" y1="245.3" x2="47.7" y2="245.3" stroke="#222" stroke-width="0.9"/>
<line x1="46.8" y1="252.5" x2="48.9" y2="252.5" stroke="#222" stroke-width="0.9"/>
<text x="41.6" y="245.8" font-size="7.56" fill="#333" text-anchor="end" textLength="9.6" lengthAdjust="spacingAndGlyphs" dominant-baseline="central">100</text>
<text x="41.6" y="251.9" font-size="7.56" fill="#333" text-anchor="end" textLength="6.4" lengthAdjust="spacingAndGlyphs" dominant-baseline="central">50</text>
<line x1="57.4" y1="320.2" x2="57.4" y2="322.4" stroke="#222" stroke-width="0.8"/>
<line x1="75.8" y1="320.2" x2="75.8" y2="322.4" stroke="#222" stroke-width="0.8"/>
<line x1="94.3" y1="320.2" x2="94.3" y2="322.4" stroke="#222" stroke-width="0.8"/>
<line x1="112.8" y1="320.2" x2="112.8" y2="322.4" stroke="#222" stroke-width="0.8"/>
<line x1="131.2" y1="320.2" x2="131.2" y2="322.4" stroke="#222" stroke-width="0.8"/>
<line x1="149.6" y1="320.2" x2="149.6" y2="322.4" stroke="#222" stroke-width="0.8"/>
<text x="23.4" y="281.5" font-size="8.42" fill="#3a3a3a" text-anchor="middle" textLength="45" lengthAdjust="spacingAndGlyphs" transform="rotate(-90 23.4 281.5)" dominant-baseline="central">Percentage (%)</text>
<path d="M112.8,320.2 L131.2,316.8 L131.2,320.2 Z" fill="#f4aca2" stroke="none" stroke-width="1"/>
<line x1="57.4" y1="320.0" x2="131.2" y2="320.0" stroke="#f28b7d" stroke-width="1.1"/>
<line x1="112.8" y1="320.0" x2="131.2" y2="317.2" stroke="#f28b7d" stroke-width="1.1"/>
<line x1="131.2" y1="317.4" x2="146.5" y2="258.0" stroke="#f28b7d" stroke-width="1.1"/>
<line x1="146.5" y1="258.0" x2="149.6" y2="246.0" stroke="#f28b7d" stroke-width="1.1" stroke-dasharray="2,1.5"/>
<circle cx="57.4" cy="320.0" r="0.9" fill="#f28b7d" stroke="none" stroke-width="0.5"/>
<circle cx="75.8" cy="320.0" r="0.9" fill="#f28b7d" stroke="none" stroke-width="0.5"/>
<circle cx="94.3" cy="320.0" r="0.9" fill="#f28b7d" stroke="none" stroke-width="0.5"/>
<circle cx="112.8" cy="320.0" r="0.9" fill="#f28b7d" stroke="none" stroke-width="0.5"/>
<circle cx="131.5" cy="317.2" r="1.1" fill="#f28b7d" stroke="none" stroke-width="0.5"/>
<path d="M148.0,244.2 L151.2,244.2 L149.6,247.4 Z" fill="#f28b7d" stroke="none" stroke-width="1"/>
<path d="M57.4,309.7 L75.8,290.6 L94.3,275.8 L112.8,273.6 L131.2,273.1 L149.6,320.3" fill="none" stroke="#4262ad" stroke-width="1.2" stroke-linejoin="round"/>
<path d="M57.4,311.3 L75.8,293.4 L94.3,286.0 L112.8,271.9 L131.2,260.0 L149.6,273.1" fill="none" stroke="#4262ad" stroke-width="1.2" stroke-linejoin="round"/>
<path d="M57.4,314.5 L75.8,301.2 L94.3,277.5 L112.8,272.0 L131.2,262.6 L149.6,282.6" fill="none" stroke="#4262ad" stroke-width="1.2" stroke-linejoin="round"/>
<path d="M57.4,312.8 L75.8,301.2 L94.3,294.8 L112.8,294.0 L131.2,289.7 L149.6,309.2" fill="none" stroke="#4262ad" stroke-width="1.2" stroke-linejoin="round"/>
<circle cx="57.4" cy="309.7" r="1.3" fill="#4262ad" stroke="none" stroke-width="0.5"/>
<circle cx="75.8" cy="290.6" r="1.3" fill="#4262ad" stroke="none" stroke-width="0.5"/>
<circle cx="94.3" cy="275.8" r="1.3" fill="#4262ad" stroke="none" stroke-width="0.5"/>
<circle cx="112.8" cy="273.6" r="1.3" fill="#4262ad" stroke="none" stroke-width="0.5"/>
<circle cx="131.2" cy="273.1" r="1.3" fill="#4262ad" stroke="none" stroke-width="0.5"/>
<circle cx="57.4" cy="311.3" r="1.3" fill="#4262ad" stroke="none" stroke-width="0.5"/>
<circle cx="75.8" cy="293.4" r="1.3" fill="#4262ad" stroke="none" stroke-width="0.5"/>
<circle cx="94.3" cy="286.0" r="1.3" fill="#4262ad" stroke="none" stroke-width="0.5"/>
<circle cx="112.8" cy="271.9" r="1.3" fill="#4262ad" stroke="none" stroke-width="0.5"/>
<circle cx="131.2" cy="260.0" r="1.3" fill="#4262ad" stroke="none" stroke-width="0.5"/>
<circle cx="149.6" cy="273.1" r="1.3" fill="#4262ad" stroke="none" stroke-width="0.5"/>
<circle cx="57.4" cy="314.5" r="1.3" fill="#4262ad" stroke="none" stroke-width="0.5"/>
<circle cx="75.8" cy="301.2" r="1.3" fill="#4262ad" stroke="none" stroke-width="0.5"/>
<circle cx="94.3" cy="277.5" r="1.3" fill="#4262ad" stroke="none" stroke-width="0.5"/>
<circle cx="112.8" cy="272.0" r="1.3" fill="#4262ad" stroke="none" stroke-width="0.5"/>
<circle cx="131.2" cy="262.6" r="1.3" fill="#4262ad" stroke="none" stroke-width="0.5"/>
<circle cx="149.6" cy="282.6" r="1.3" fill="#4262ad" stroke="none" stroke-width="0.5"/>
<circle cx="57.4" cy="312.8" r="1.3" fill="#4262ad" stroke="none" stroke-width="0.5"/>
<circle cx="75.8" cy="301.2" r="1.3" fill="#4262ad" stroke="none" stroke-width="0.5"/>
<circle cx="94.3" cy="294.8" r="1.3" fill="#4262ad" stroke="none" stroke-width="0.5"/>
<circle cx="112.8" cy="294.0" r="1.3" fill="#4262ad" stroke="none" stroke-width="0.5"/>
<circle cx="131.2" cy="289.7" r="1.3" fill="#4262ad" stroke="none" stroke-width="0.5"/>
<circle cx="149.6" cy="309.2" r="1.3" fill="#4262ad" stroke="none" stroke-width="0.5"/>
<text x="57.699999999999996" y="329.7" font-size="7.56" fill="#333" text-anchor="middle" textLength="6.8" lengthAdjust="spacingAndGlyphs" dominant-baseline="central">d0</text>
<text x="76.1" y="329.7" font-size="7.56" fill="#333" text-anchor="middle" textLength="6.8" lengthAdjust="spacingAndGlyphs" dominant-baseline="central">d5</text>
<text x="94.6" y="329.7" font-size="7.56" fill="#333" text-anchor="middle" textLength="10.2" lengthAdjust="spacingAndGlyphs" dominant-baseline="central">d10</text>
<text x="113.1" y="329.7" font-size="7.56" fill="#333" text-anchor="middle" textLength="10.2" lengthAdjust="spacingAndGlyphs" dominant-baseline="central">d15</text>
<text x="131.5" y="329.7" font-size="7.56" fill="#333" text-anchor="middle" textLength="10.2" lengthAdjust="spacingAndGlyphs" dominant-baseline="central">d20</text>
<text x="149.9" y="329.7" font-size="7.56" fill="#333" text-anchor="middle" textLength="10.2" lengthAdjust="spacingAndGlyphs" dominant-baseline="central">d25</text>
<line x1="48.8" y1="341.1" x2="189.5" y2="341.1" stroke="#111" stroke-width="1.1"/>
<path d="M193.0,341.1 L187.6,338.8 L187.6,343.4 Z" fill="#111" stroke="none" stroke-width="1"/>
<line x1="57.4" y1="334.0" x2="57.4" y2="347.6" stroke="#222" stroke-width="1.1"/>
<line x1="75.8" y1="334.0" x2="75.8" y2="347.6" stroke="#222" stroke-width="1.1"/>
<line x1="94.3" y1="334.0" x2="94.3" y2="347.6" stroke="#222" stroke-width="1.1"/>
<line x1="112.8" y1="334.0" x2="112.8" y2="347.6" stroke="#222" stroke-width="1.1"/>
<line x1="131.2" y1="334.0" x2="131.2" y2="347.6" stroke="#222" stroke-width="1.1"/>
<line x1="149.6" y1="334.0" x2="149.6" y2="347.6" stroke="#222" stroke-width="1.1"/>
<text x="175.2" y="348.88" font-size="7.56" fill="#3a3a3a" textLength="12.8" lengthAdjust="spacingAndGlyphs" dominant-baseline="central">days</text>
<line x1="149.2" y1="363.8" x2="149.2" y2="372.0" stroke="#222" stroke-width="1.0"/>
<text x="152.5" y="367.6" font-size="7.56" fill="#3a3a3a" textLength="38.8" lengthAdjust="spacingAndGlyphs" dominant-baseline="central">FACS analysis</text>
<text x="60.0" y="354.0" font-size="7.56" fill="#3a3a3a" text-anchor="end" textLength="50.3" lengthAdjust="spacingAndGlyphs" transform="rotate(-45 60.0 354.0)" dominant-baseline="central">prior to coculture</text>
<text x="78.39999999999999" y="354.0" font-size="7.56" fill="#3a3a3a" text-anchor="end" textLength="38.5" lengthAdjust="spacingAndGlyphs" transform="rotate(-45 78.39999999999999 354.0)" dominant-baseline="central">1st challenge</text>
<text x="96.89999999999999" y="354.0" font-size="7.56" fill="#3a3a3a" text-anchor="end" textLength="41" lengthAdjust="spacingAndGlyphs" transform="rotate(-45 96.89999999999999 354.0)" dominant-baseline="central">2nd challenge</text>
<text x="115.39999999999999" y="354.0" font-size="7.56" fill="#3a3a3a" text-anchor="end" textLength="40" lengthAdjust="spacingAndGlyphs" transform="rotate(-45 115.39999999999999 354.0)" dominant-baseline="central">3rd challenge</text>
<text x="133.79999999999998" y="354.0" font-size="7.56" fill="#3a3a3a" text-anchor="end" textLength="40.5" lengthAdjust="spacingAndGlyphs" transform="rotate(-45 133.79999999999998 354.0)" dominant-baseline="central">4th challenge</text>
<text x="152.2" y="354.0" font-size="7.56" fill="#3a3a3a" text-anchor="end" textLength="40.5" lengthAdjust="spacingAndGlyphs" transform="rotate(-45 152.2 354.0)" dominant-baseline="central">5th challenge</text>
<line x1="32" y1="399.7" x2="42.5" y2="399.7" stroke="#4262ad" stroke-width="1.1"/>
<circle cx="37.2" cy="399.7" r="1.3" fill="#4262ad" stroke="none" stroke-width="0.5"/>
<text x="45" y="399.8" font-size="7.56" fill="#3a3a3a" textLength="51.8" lengthAdjust="spacingAndGlyphs" dominant-baseline="central">% GPR56+CD27+</text>
<text x="45" y="407.1" font-size="7.56" fill="#3a3a3a" textLength="69" lengthAdjust="spacingAndGlyphs" dominant-baseline="central">of CD3+CD8+ 4 donors</text>
<line x1="118.6" y1="399.7" x2="127.3" y2="399.7" stroke="#f28b7d" stroke-width="1.1"/>
<circle cx="122.9" cy="399.7" r="1.0" fill="#f28b7d" stroke="none" stroke-width="0.5"/>
<text x="130" y="399.8" font-size="7.56" fill="#3a3a3a" textLength="45.8" lengthAdjust="spacingAndGlyphs" dominant-baseline="central">% CD15+HL60</text>
<text x="130" y="406.58" font-size="7.56" fill="#3a3a3a" textLength="49.2" lengthAdjust="spacingAndGlyphs" dominant-baseline="central">of cells in culture</text>
<text x="234.8" y="245.4" font-size="7.56" fill="#3a3a3a" textLength="31.2" lengthAdjust="spacingAndGlyphs" dominant-baseline="central">bulk CAR-T</text>
<text x="236.8" y="253.07" font-size="7.56" fill="#3a3a3a" textLength="28.2" lengthAdjust="spacingAndGlyphs" dominant-baseline="central">co-culture</text>
<path d="M241.6,268.3 L255.5,273.8 L262,267.2 L262,269.4 L255.5,276.0 L241.6,270.5 Z" fill="#dfeef4" stroke="#2aa0b8" stroke-width="0.7" stroke-linejoin="round"/>
<path d="M241.6,268.3 L248,262 L262,267.2 L255.5,273.8 Z" fill="#f7f4fb" stroke="#a9bfd6" stroke-width="0.6" stroke-linejoin="round"/>
<path d="M246.3,266.15 L255.0,265.8 L257.25,270.5 L248.55,270.55 Z" fill="#f8e6f0" stroke="none" stroke-width="1"/>
<ellipse cx="260" cy="272.2" rx="3.2" ry="3.04" fill="#12905e" stroke="none" stroke-width="0.5"/>
<text x="208" y="278.6" font-size="7.56" fill="#3a3a3a" textLength="36.6" lengthAdjust="spacingAndGlyphs" dominant-baseline="central">CD33.CAR-T</text>
<circle cx="259.3" cy="300.9" r="5.6" fill="#e9e6f3" stroke="none" stroke-width="0.5"/>
<ellipse cx="247.7" cy="284.8" rx="4.0" ry="3.5" fill="#3b86ba" stroke="#2a9cc4" stroke-width="0.5"/>
<circle cx="259.4" cy="300.9" r="3.6" fill="#4d82b9" stroke="#3f75ad" stroke-width="0.4"/>
<path d="M250.5,287.6 Q252.8,288.6 253.2,291.2 L254.4,293.8 M252.4,291.8 Q254.3,289.9 256.6,290.9 M255.2,294.6 Q257,293.6 257.8,296.3" fill="none" stroke="#1592b6" stroke-width="1.6"/>
<text x="234.8" y="303.9" font-size="7.56" fill="#3a3a3a" textLength="14.7" lengthAdjust="spacingAndGlyphs" dominant-baseline="central">HL60</text>
<line x1="281.7" y1="269" x2="293.5" y2="269" stroke="#111" stroke-width="1.3"/>
<path d="M298.2,269 L292.8,266.5 L292.8,271.5 Z" fill="#111" stroke="none" stroke-width="1"/>
<text x="281.2" y="279.18" font-size="7.56" fill="#3a3a3a" textLength="18.4" lengthAdjust="spacingAndGlyphs" dominant-baseline="central">5 days</text>
<text x="321" y="245.5" font-size="7.56" fill="#3a3a3a" textLength="30" lengthAdjust="spacingAndGlyphs" dominant-baseline="central">sort CD8+</text>
<text x="321" y="253.07" font-size="7.56" fill="#3a3a3a" textLength="30" lengthAdjust="spacingAndGlyphs" dominant-baseline="central">4 fractions</text>
<rect x="325.2" y="264.3" width="11.4" height="11.4" fill="#7c1f87" stroke="none" stroke-width="1"/>
<rect x="336.59999999999997" y="264.3" width="11.4" height="11.4" fill="#5b6cb6" stroke="none" stroke-width="1"/>
<rect x="325.2" y="275.7" width="11.4" height="11.4" fill="#4cb963" stroke="none" stroke-width="1"/>
<rect x="336.59999999999997" y="275.7" width="11.4" height="11.4" fill="#17a2b6" stroke="none" stroke-width="1"/>
<rect x="325.2" y="264.3" width="22.8" height="22.8" fill="none" stroke="#333a4a" stroke-width="0.9"/>
<text x="317.0" y="270.9" font-size="8.42" fill="#3a3a3a" text-anchor="middle" textLength="19.8" lengthAdjust="spacingAndGlyphs" transform="rotate(-90 317.0 270.9)" dominant-baseline="central">GPR56</text>
<line x1="316.9" y1="287.5" x2="316.9" y2="295.4" stroke="#111" stroke-width="1.4"/>
<path d="M316.9,283.0 L314.5,288.2 L319.3,288.2 Z" fill="#111" stroke="none" stroke-width="1"/>
<line x1="316.9" y1="295.4" x2="326.5" y2="295.4" stroke="#111" stroke-width="1.4"/>
<path d="M330.8,295.4 L325.6,293.0 L325.6,297.8 Z" fill="#111" stroke="none" stroke-width="1"/>
<text x="332.0" y="295.8" font-size="9.72" fill="#3a3a3a" textLength="16.0" lengthAdjust="spacingAndGlyphs" dominant-baseline="central">CD27</text>
<line x1="353.8" y1="265.2" x2="366.2" y2="265.2" stroke="#7b2b8c" stroke-width="1"/>
<path d="M369.4,265.2 L365.6,263.4 L365.6,267.0 Z" fill="#7b2b8c" stroke="none" stroke-width="1"/>
<line x1="353.8" y1="275.2" x2="366.2" y2="275.2" stroke="#5a6db5" stroke-width="1"/>
<path d="M369.4,275.2 L365.6,273.4 L365.6,277.0 Z" fill="#5a6db5" stroke="none" stroke-width="1"/>
<line x1="353.8" y1="284.4" x2="366.2" y2="284.4" stroke="#1a9fb8" stroke-width="1"/>
<path d="M369.4,284.4 L365.6,282.59999999999997 L365.6,286.2 Z" fill="#1a9fb8" stroke="none" stroke-width="1"/>
<line x1="353.8" y1="292.9" x2="366.2" y2="292.9" stroke="#5cba6e" stroke-width="1"/>
<path d="M369.4,292.9 L365.6,291.09999999999997 L365.6,294.7 Z" fill="#5cba6e" stroke="none" stroke-width="1"/>
<text x="384" y="245.1" font-size="7.56" fill="#3a3a3a" textLength="39.5" lengthAdjust="spacingAndGlyphs" dominant-baseline="central">sorted CAR-T</text>
<text x="373.5" y="253.07" font-size="7.56" fill="#3a3a3a" textLength="60.5" lengthAdjust="spacingAndGlyphs" dominant-baseline="central">co-culture with HL60</text>
<path d="M392.3,290.2 L404.3,294.9 L410.2,288.9 L410.2,291.09999999999997 L404.3,297.09999999999997 L392.3,292.4 Z" fill="#dfeef4" stroke="#2aa0b8" stroke-width="0.7" stroke-linejoin="round"/>
<path d="M392.3,290.2 L398.2,284.4 L410.2,288.9 L404.3,294.9 Z" fill="#f7f4fb" stroke="#a9bfd6" stroke-width="0.6" stroke-linejoin="round"/>
<path d="M396.75,288.29999999999995 L404.2,287.84999999999997 L405.75,291.9 L398.3,292.04999999999995 Z" fill="#f8e6f0" stroke="none" stroke-width="1"/>
<ellipse cx="411.3" cy="294.7" rx="3.1" ry="2.945" fill="#12905e" stroke="none" stroke-width="0.5"/>
<path d="M392.3,282.3 L404.3,287.0 L410.2,281.0 L410.2,283.2 L404.3,289.2 L392.3,284.5 Z" fill="#dfeef4" stroke="#2aa0b8" stroke-width="0.7" stroke-linejoin="round"/>
<path d="M392.3,282.3 L398.2,276.5 L410.2,281.0 L404.3,287.0 Z" fill="#f7f4fb" stroke="#a9bfd6" stroke-width="0.6" stroke-linejoin="round"/>
<path d="M396.75,280.4 L404.2,279.95 L405.75,284.0 L398.3,284.15 Z" fill="#f8e6f0" stroke="none" stroke-width="1"/>
<ellipse cx="411.3" cy="286.8" rx="3.1" ry="2.945" fill="#12905e" stroke="none" stroke-width="0.5"/>
<path d="M392.3,273.8 L404.3,278.5 L410.2,272.5 L410.2,274.7 L404.3,280.7 L392.3,276.0 Z" fill="#dfeef4" stroke="#2aa0b8" stroke-width="0.7" stroke-linejoin="round"/>
<path d="M392.3,273.8 L398.2,268.0 L410.2,272.5 L404.3,278.5 Z" fill="#f7f4fb" stroke="#a9bfd6" stroke-width="0.6" stroke-linejoin="round"/>
<path d="M396.75,271.9 L404.2,271.45 L405.75,275.5 L398.3,275.65 Z" fill="#f8e6f0" stroke="none" stroke-width="1"/>
<ellipse cx="411.3" cy="278.3" rx="3.1" ry="2.945" fill="#12905e" stroke="none" stroke-width="0.5"/>
<path d="M392.3,265.4 L404.3,270.09999999999997 L410.2,264.09999999999997 L410.2,266.29999999999995 L404.3,272.29999999999995 L392.3,267.59999999999997 Z" fill="#dfeef4" stroke="#2aa0b8" stroke-width="0.7" stroke-linejoin="round"/>
<path d="M392.3,265.4 L398.2,259.59999999999997 L410.2,264.09999999999997 L404.3,270.09999999999997 Z" fill="#f7f4fb" stroke="#a9bfd6" stroke-width="0.6" stroke-linejoin="round"/>
<path d="M396.75,263.5 L404.2,263.04999999999995 L405.75,267.09999999999997 L398.3,267.25 Z" fill="#f8e6f0" stroke="none" stroke-width="1"/>
<ellipse cx="411.3" cy="269.9" rx="3.1" ry="2.945" fill="#12905e" stroke="none" stroke-width="0.5"/>
<text x="446.2" y="272.98" font-size="7.56" fill="#3a3a3a" textLength="18" lengthAdjust="spacingAndGlyphs" dominant-baseline="central">5 days</text>
<line x1="447" y1="280.7" x2="458.8" y2="280.7" stroke="#111" stroke-width="1.3"/>
<path d="M463.5,280.7 L458.1,278.2 L458.1,283.2 Z" fill="#111" stroke="none" stroke-width="1"/>
<text x="491.5" y="254.3" font-size="7.56" fill="#3a3a3a" textLength="16.4" lengthAdjust="spacingAndGlyphs" dominant-baseline="central">CD8+</text>
<rect x="488.4" y="261.0" width="11.2" height="11.2" fill="#7c1f87" stroke="none" stroke-width="1"/>
<rect x="499.59999999999997" y="261.0" width="11.2" height="11.2" fill="#5b6cb6" stroke="none" stroke-width="1"/>
<rect x="488.4" y="272.2" width="11.2" height="11.2" fill="#4cb963" stroke="none" stroke-width="1"/>
<rect x="499.59999999999997" y="272.2" width="11.2" height="11.2" fill="#17a2b6" stroke="none" stroke-width="1"/>
<rect x="488.4" y="261.0" width="22.4" height="22.4" fill="none" stroke="#333a4a" stroke-width="0.9"/>
<text x="481.6" y="269.0" font-size="8.42" fill="#3a3a3a" text-anchor="middle" textLength="20.2" lengthAdjust="spacingAndGlyphs" transform="rotate(-90 481.6 269.0)" dominant-baseline="central">GPR56</text>
<line x1="481.3" y1="285.5" x2="481.3" y2="293.2" stroke="#111" stroke-width="1.4"/>
<path d="M481.3,281.0 L478.9,286.2 L483.7,286.2 Z" fill="#111" stroke="none" stroke-width="1"/>
<line x1="481.3" y1="293.2" x2="488.5" y2="293.2" stroke="#111" stroke-width="1.4"/>
<path d="M492.8,293.2 L487.6,290.8 L487.6,295.6 Z" fill="#111" stroke="none" stroke-width="1"/>
<text x="494.4" y="293.2" font-size="9.72" fill="#3a3a3a" textLength="16.6" lengthAdjust="spacingAndGlyphs" dominant-baseline="central">CD27</text>
<text x="489.6" y="301.08" font-size="7.56" fill="#3a3a3a" textLength="20.3" lengthAdjust="spacingAndGlyphs" dominant-baseline="central">analyze</text>
<text x="252.9" y="321.62" font-size="8.42" fill="#5a6db5" text-anchor="middle" textLength="19.5" lengthAdjust="spacingAndGlyphs" dominant-baseline="central">input</text>
<text x="252.5" y="331.5" font-size="8.64" fill="#5a6db5" text-anchor="middle" textLength="58.4" lengthAdjust="spacingAndGlyphs" dominant-baseline="central">GPR56+CD27+</text>
<text x="322.0" y="321.63" font-size="8.21" fill="#8a3e99" text-anchor="middle" textLength="19.5" lengthAdjust="spacingAndGlyphs" dominant-baseline="central">input</text>
<text x="321.8" y="331.8" font-size="8.64" fill="#8a3e99" text-anchor="middle" textLength="57" lengthAdjust="spacingAndGlyphs" dominant-baseline="central">GPR56+CD27–</text>
<text x="252.7" y="414.73" font-size="8.21" fill="#1aa3b8" text-anchor="middle" textLength="19.3" lengthAdjust="spacingAndGlyphs" dominant-baseline="central">input</text>
<text x="252.7" y="424.9" font-size="8.64" fill="#1aa3b8" text-anchor="middle" textLength="58" lengthAdjust="spacingAndGlyphs" dominant-baseline="central">GPR56–CD27+</text>
<text x="322.2" y="414.43" font-size="8.21" fill="#5cb870" text-anchor="middle" textLength="19.3" lengthAdjust="spacingAndGlyphs" dominant-baseline="central">input</text>
<text x="322.0" y="424.9" font-size="8.64" fill="#5cb870" text-anchor="middle" textLength="56.5" lengthAdjust="spacingAndGlyphs" dominant-baseline="central">GPR56–CD27–</text>
<g><path d="M239,358 C239,353 243,351.5 247,351.5 L259,351.5 C264,351.5 266,354 266,359 L266,382 C266,386 263,388 259,388 L246,388 C241,388 238.5,385.5 238.5,381 Z" fill="#9a9a9a" filter="url(#bl1)"/><path d="M239,358 C239,353 243,351.5 247,351.5 L259,351.5 C264,351.5 266,354 266,359 L266,382 C266,386 263,388 259,388 L246,388 C241,388 238.5,385.5 238.5,381 Z" fill="#4a4a4a" stroke="#151515" stroke-width="2.6" transform="translate(252.3 369.8) scale(0.9) translate(-252.3 -369.8)" filter="url(#bl05)"/><ellipse cx="249" cy="362" rx="3.2" ry="2.6" fill="#c8c8c8" filter="url(#bl05)"/><ellipse cx="258" cy="361.5" rx="3.2" ry="2.2" fill="#dcdcdc" filter="url(#bl05)"/><path d="M246,366.5 C250,368 255,368 260,366" stroke="#333" stroke-width="1.2" fill="none" filter="url(#bl05)"/><path d="M242.5,372.8 C248,371.8 256,372.5 262.5,374" stroke="#a8a8a8" stroke-width="1.6" fill="none" filter="url(#bl05)"/><circle cx="246.6" cy="380" r="3.6" fill="#777" stroke="#111" stroke-width="2.2"/><circle cx="259.5" cy="381" r="3.6" fill="#666" stroke="#111" stroke-width="2.2"/><path d="M243.5,380.5 L249.5,380.5" stroke="#ccc" stroke-width="0.9" filter="url(#bl05)"/><circle cx="259.8" cy="381.3" r="1.1" fill="#eee"/></g>
<rect x="222.0" y="339.8" width="61.30000000000001" height="61.19999999999999" fill="none" stroke="#555" stroke-width="1.2"/>
<line x1="251.5" y1="339.8" x2="251.5" y2="401.0" stroke="#555" stroke-width="1.2"/>
<line x1="222.0" y1="371.8" x2="283.3" y2="371.8" stroke="#777" stroke-width="1.5"/>
<text x="224.0" y="345.6" font-size="7.56" fill="#333" textLength="15.75" lengthAdjust="spacingAndGlyphs" dominant-baseline="central">24.08</text>
<text x="281.7" y="345.6" font-size="7.56" fill="#333" text-anchor="end" textLength="15.75" lengthAdjust="spacingAndGlyphs" dominant-baseline="central">34.78</text>
<text x="224.0" y="396.6" font-size="7.56" fill="#333" textLength="15.75" lengthAdjust="spacingAndGlyphs" dominant-baseline="central">18.95</text>
<text x="281.7" y="396.2" font-size="7.56" fill="#333" text-anchor="end" textLength="15.75" lengthAdjust="spacingAndGlyphs" dominant-baseline="central">22.18</text>
<g><path d="M305,359 C305,355 308,353.5 312,353.8 L326,354 C331,354 334,357 334.5,362 L334.5,382 C334.5,387 331,389.5 326,389.8 L312,390 C307,390 304,387 304,382 Z" fill="#9a9a9a" filter="url(#bl1)"/><path d="M305,359 C305,355 308,353.5 312,353.8 L326,354 C331,354 334,357 334.5,362 L334.5,382 C334.5,387 331,389.5 326,389.8 L312,390 C307,390 304,387 304,382 Z" fill="#858585" stroke="#161616" stroke-width="3" transform="translate(319 372) scale(0.9) translate(-319 -372)" filter="url(#bl05)"/><path d="M306.5,359 L311.5,357.5 L311.5,387 L306.5,385 Z" fill="#1a1a1a" filter="url(#bl05)"/><path d="M310,362 C312,359 315,362 314,369 M327,358 L312,384 M311,371 L319,385 M320,360 L322,370" stroke="#151515" stroke-width="1.8" fill="none" filter="url(#bl05)"/><ellipse cx="311.8" cy="366" rx="1.5" ry="3" fill="#e8e8e8" filter="url(#bl05)"/><ellipse cx="324.5" cy="366" rx="2.2" ry="2.5" fill="#cfcfcf" filter="url(#bl05)"/><ellipse cx="313.5" cy="382" rx="1.2" ry="2.5" fill="#e8e8e8" filter="url(#bl05)"/><ellipse cx="326" cy="379" rx="2.5" ry="3.5" fill="#c4c4c4" filter="url(#bl05)"/></g>
<rect x="291.3" y="340.2" width="61.39999999999998" height="61.0" fill="none" stroke="#555" stroke-width="1.2"/>
<line x1="320.9" y1="340.2" x2="320.9" y2="401.2" stroke="#555" stroke-width="1.2"/>
<line x1="291.3" y1="372.0" x2="352.7" y2="372.0" stroke="#777" stroke-width="1.5"/>
<text x="293.3" y="346.0" font-size="7.56" fill="#333" textLength="15.75" lengthAdjust="spacingAndGlyphs" dominant-baseline="central">41.30</text>
<text x="351.09999999999997" y="346.0" font-size="7.56" fill="#333" text-anchor="end" textLength="15.75" lengthAdjust="spacingAndGlyphs" dominant-baseline="central">14.48</text>
<text x="293.3" y="396.8" font-size="7.56" fill="#333" textLength="15.75" lengthAdjust="spacingAndGlyphs" dominant-baseline="central">31.08</text>
<text x="351.09999999999997" y="396.4" font-size="7.56" fill="#333" text-anchor="end" textLength="15.75" lengthAdjust="spacingAndGlyphs" dominant-baseline="central">13.15</text>
<g><path d="M242.2,466 C242.2,456.6 245.2,454.6 252.3,454.6 C259.5,454.6 262.5,456.6 262.5,466" fill="none" stroke="#666" stroke-width="0.5"/><path d="M243.5,466 C243.5,458.0 246.5,456.0 252.7,456.0 C258.8,456.0 261.8,458.0 261.8,466" fill="none" stroke="#666" stroke-width="0.5"/><path d="M244.8,466 C244.8,459.4 247.8,457.4 252.9,457.4 C258.1,457.4 261.1,459.4 261.1,466" fill="none" stroke="#666" stroke-width="0.5"/><path d="M246.1,466 C246.1,460.8 249.1,458.8 253.2,458.8 C257.4,458.8 260.4,460.8 260.4,466" fill="none" stroke="#666" stroke-width="0.5"/><path d="M247.4,466 C247.4,462.2 250.4,460.2 253.5,460.2 C256.7,460.2 259.7,462.2 259.7,466" fill="none" stroke="#666" stroke-width="0.5"/><path d="M238.5,468.5 C238.5,466 243,465.4 252,465.4 C261,465.4 265.5,466 265.8,469 C266.8,472 267,476 266.2,479 C265,483 260,484.3 252,484.3 C244,484.3 238.8,483 237.8,479 C237.2,476 237.5,472 238.5,468.5 Z" fill="url(#gE3)" filter="url(#bl05)"/><path d="M244,477 L259.5,477" stroke="#bbb" stroke-width="1.1" filter="url(#bl05)"/></g>
<rect x="222.5" y="432.8" width="60.80000000000001" height="61.099999999999966" fill="none" stroke="#555" stroke-width="1.2"/>
<line x1="251.8" y1="432.8" x2="251.8" y2="493.9" stroke="#555" stroke-width="1.2"/>
<line x1="222.5" y1="464.7" x2="283.3" y2="464.7" stroke="#777" stroke-width="1.5"/>
<text x="224.5" y="438.6" font-size="7.56" fill="#333" textLength="12.6" lengthAdjust="spacingAndGlyphs" dominant-baseline="central">3.11</text>
<text x="281.7" y="438.6" font-size="7.56" fill="#333" text-anchor="end" textLength="12.6" lengthAdjust="spacingAndGlyphs" dominant-baseline="central">4.10</text>
<text x="224.5" y="489.5" font-size="7.56" fill="#333" textLength="15.75" lengthAdjust="spacingAndGlyphs" dominant-baseline="central">39.30</text>
<text x="281.7" y="489.09999999999997" font-size="7.56" fill="#333" text-anchor="end" textLength="15.75" lengthAdjust="spacingAndGlyphs" dominant-baseline="central">53.49</text>
<g><path d="M306.5,466 C306.5,458.5 309.5,456.5 313.1,456.5 C316.6,456.5 319.6,458.5 319.6,466" fill="none" stroke="#666" stroke-width="0.5"/><path d="M308.0,466 C308.0,460.3 311.0,458.3 313.6,458.3 C316.1,458.3 319.1,460.3 319.1,466" fill="none" stroke="#666" stroke-width="0.5"/><path d="M309.5,466 C309.5,462.1 312.5,460.1 314.1,460.1 C315.6,460.1 318.6,462.1 318.6,466" fill="none" stroke="#666" stroke-width="0.5"/><path d="M321.3,465 L321.3,458 C321.3,456.5 323,456.2 324.5,456.2 C326.5,456.2 327.2,457 327.2,459 L327.2,465" fill="none" stroke="#888" stroke-width="0.50" transform="translate(324 465) scale(1.0) translate(-324 -465)"/><path d="M303.5,472 C303.5,467 308,465.3 315,465.3 C325,465 333,466 336.8,471 C339,477 336,484 327,484.4 L315,484.4 C307,484.4 303.5,480 303.5,472 Z" fill="url(#gE4)" filter="url(#bl05)"/><path d="M303.5,472 C303.5,467 308,465.3 315,465.3 C325,465 333,466 336.8,471 C339,477 336,484 327,484.4 L315,484.4 C307,484.4 303.5,480 303.5,472 Z" fill="none" stroke="#444" stroke-width="0.59" transform="translate(320 475) scale(0.85) translate(-320 -475)"/><path d="M303.5,472 C303.5,467 308,465.3 315,465.3 C325,465 333,466 336.8,471 C339,477 336,484 327,484.4 L315,484.4 C307,484.4 303.5,480 303.5,472 Z" fill="none" stroke="#444" stroke-width="0.71" transform="translate(320 475) scale(0.7) translate(-320 -475)"/><circle cx="311" cy="475.9" r="1" fill="#eee"/><path d="M322,475.9 L329,475.9" stroke="#ddd" stroke-width="1.1" filter="url(#bl05)"/></g>
<rect x="291.4" y="432.8" width="60.900000000000034" height="61.39999999999998" fill="none" stroke="#555" stroke-width="1.2"/>
<line x1="320.9" y1="432.8" x2="320.9" y2="494.2" stroke="#555" stroke-width="1.2"/>
<line x1="291.4" y1="464.7" x2="352.3" y2="464.7" stroke="#777" stroke-width="1.5"/>
<text x="293.4" y="438.6" font-size="7.56" fill="#333" textLength="12.6" lengthAdjust="spacingAndGlyphs" dominant-baseline="central">3.36</text>
<text x="350.7" y="438.6" font-size="7.56" fill="#333" text-anchor="end" textLength="12.6" lengthAdjust="spacingAndGlyphs" dominant-baseline="central">2.12</text>
<text x="293.4" y="489.8" font-size="7.56" fill="#333" textLength="15.75" lengthAdjust="spacingAndGlyphs" dominant-baseline="central">72.90</text>
<text x="350.7" y="489.4" font-size="7.56" fill="#333" text-anchor="end" textLength="15.75" lengthAdjust="spacingAndGlyphs" dominant-baseline="central">21.62</text>
<text x="211.4" y="471.4" font-size="8.21" fill="#3a3a3a" text-anchor="middle" textLength="21" lengthAdjust="spacingAndGlyphs" transform="rotate(-90 211.4 471.4)" dominant-baseline="central">GPR56</text>
<line x1="212.1" y1="492.0" x2="212.1" y2="502.2" stroke="#111" stroke-width="1.3"/>
<path d="M212.1,487.8 L209.8,493.0 L214.4,493.0 Z" fill="#111" stroke="none" stroke-width="1"/>
<line x1="212.1" y1="502.2" x2="222.5" y2="502.2" stroke="#111" stroke-width="1.3"/>
<path d="M227.0,502.2 L221.8,499.9 L221.8,504.5 Z" fill="#111" stroke="none" stroke-width="1"/>
<text x="229.7" y="501.9" font-size="9.07" fill="#3a3a3a" textLength="17.5" lengthAdjust="spacingAndGlyphs" dominant-baseline="central">CD27</text>
<line x1="410.6" y1="317.8" x2="410.6" y2="401.9" stroke="#222" stroke-width="1"/>
<line x1="410.2" y1="401.5" x2="465.5" y2="401.5" stroke="#222" stroke-width="1"/>
<line x1="408.4" y1="401.5" x2="410.6" y2="401.5" stroke="#222" stroke-width="0.9"/>
<text x="404.3" y="401.7" font-size="7.78" fill="#333" text-anchor="end" textLength="3.4" lengthAdjust="spacingAndGlyphs" dominant-baseline="central">0</text>
<line x1="408.4" y1="366.6" x2="410.6" y2="366.6" stroke="#222" stroke-width="0.9"/>
<text x="404.3" y="366.8" font-size="7.78" fill="#333" text-anchor="end" textLength="6.8" lengthAdjust="spacingAndGlyphs" dominant-baseline="central">50</text>
<line x1="408.4" y1="331.7" x2="410.6" y2="331.7" stroke="#222" stroke-width="0.9"/>
<text x="404.3" y="331.9" font-size="7.78" fill="#333" text-anchor="end" textLength="10.2" lengthAdjust="spacingAndGlyphs" dominant-baseline="central">100</text>
<text x="385.7" y="359.0" font-size="8.42" fill="#3a3a3a" text-anchor="middle" textLength="60" lengthAdjust="spacingAndGlyphs" transform="rotate(-90 385.7 359.0)" dominant-baseline="central">Output fractions (%)</text>
<rect x="414.9" y="381.956" width="8.2" height="19.543999999999983" fill="#7c1f87" stroke="none" stroke-width="1"/>
<rect x="414.9" y="354.036" width="8.2" height="27.920000000000016" fill="#5b6cb6" stroke="none" stroke-width="1"/>
<rect x="414.9" y="342.868" width="8.2" height="11.168000000000006" fill="#17a2b6" stroke="none" stroke-width="1"/>
<rect x="414.9" y="331.7" width="8.2" height="11.168000000000006" fill="#4cb963" stroke="none" stroke-width="1"/>
<line x1="419.0" y1="331.7" x2="419.0" y2="328.21000000000004" stroke="#777" stroke-width="0.8"/>
<line x1="417.2" y1="328.21000000000004" x2="420.8" y2="328.21000000000004" stroke="#777" stroke-width="0.8"/>
<line x1="419.0" y1="401.5" x2="419.0" y2="403.7" stroke="#222" stroke-width="0.8"/>
<rect x="427.9" y="361.714" width="8.2" height="39.786" fill="#7c1f87" stroke="none" stroke-width="1"/>
<rect x="427.9" y="351.942" width="8.2" height="9.771999999999991" fill="#5b6cb6" stroke="none" stroke-width="1"/>
<rect x="427.9" y="351.244" width="8.2" height="0.6979999999999791" fill="#17a2b6" stroke="none" stroke-width="1"/>
<rect x="427.9" y="331.7" width="8.2" height="19.54400000000004" fill="#4cb963" stroke="none" stroke-width="1"/>
<line x1="432.0" y1="331.7" x2="432.0" y2="327.512" stroke="#777" stroke-width="0.8"/>
<line x1="430.2" y1="327.512" x2="433.8" y2="327.512" stroke="#777" stroke-width="0.8"/>
<line x1="432.0" y1="401.5" x2="432.0" y2="403.7" stroke="#222" stroke-width="0.8"/>
<rect x="440.9" y="400.802" width="8.2" height="0.6979999999999791" fill="#7c1f87" stroke="none" stroke-width="1"/>
<rect x="440.9" y="399.406" width="8.2" height="1.396000000000015" fill="#5b6cb6" stroke="none" stroke-width="1"/>
<rect x="440.9" y="363.808" width="8.2" height="35.59800000000001" fill="#17a2b6" stroke="none" stroke-width="1"/>
<rect x="440.9" y="331.7" width="8.2" height="32.108000000000004" fill="#4cb963" stroke="none" stroke-width="1"/>
<line x1="445.0" y1="331.7" x2="445.0" y2="328.21000000000004" stroke="#777" stroke-width="0.8"/>
<line x1="443.2" y1="328.21000000000004" x2="446.8" y2="328.21000000000004" stroke="#777" stroke-width="0.8"/>
<line x1="445.0" y1="401.5" x2="445.0" y2="403.7" stroke="#222" stroke-width="0.8"/>
<rect x="453.9" y="396.614" width="8.2" height="4.886000000000024" fill="#7c1f87" stroke="none" stroke-width="1"/>
<rect x="453.9" y="395.916" width="8.2" height="0.6979999999999791" fill="#5b6cb6" stroke="none" stroke-width="1"/>
<rect x="453.9" y="381.258" width="8.2" height="14.658000000000015" fill="#17a2b6" stroke="none" stroke-width="1"/>
<rect x="453.9" y="331.7" width="8.2" height="49.55799999999999" fill="#4cb963" stroke="none" stroke-width="1"/>
<line x1="458.0" y1="331.7" x2="458.0" y2="322.277" stroke="#777" stroke-width="0.8"/>
<line x1="456.2" y1="322.277" x2="459.8" y2="322.277" stroke="#777" stroke-width="0.8"/>
<line x1="458.0" y1="401.5" x2="458.0" y2="403.7" stroke="#222" stroke-width="0.8"/>
<text x="466.7" y="410.24" font-size="8.10" fill="#3a3a3a" textLength="11.8" lengthAdjust="spacingAndGlyphs" dominant-baseline="central">Input</text>
<text x="466.7" y="417.44" font-size="8.10" fill="#3a3a3a" textLength="44.7" lengthAdjust="spacingAndGlyphs" dominant-baseline="central">sorted fractions</text>
<text x="420.8" y="408.0" font-size="7.56" fill="#6a7cc0" text-anchor="end" textLength="46" lengthAdjust="spacingAndGlyphs" transform="rotate(-45 420.8 408.0)" dominant-baseline="central">GPR56+CD27+</text>
<text x="433.8" y="408.0" font-size="7.56" fill="#8a3e99" text-anchor="end" textLength="46" lengthAdjust="spacingAndGlyphs" transform="rotate(-45 433.8 408.0)" dominant-baseline="central">GPR56+CD27–</text>
<text x="446.8" y="408.0" font-size="7.56" fill="#1aa3b8" text-anchor="end" textLength="46" lengthAdjust="spacingAndGlyphs" transform="rotate(-45 446.8 408.0)" dominant-baseline="central">GPR56–CD27+</text>
<text x="459.8" y="408.0" font-size="7.56" fill="#5cb870" text-anchor="end" textLength="46" lengthAdjust="spacingAndGlyphs" transform="rotate(-45 459.8 408.0)" dominant-baseline="central">GPR56–CD27–</text>
<text x="404.4" y="452.55" font-size="7.99" fill="#3a3a3a" textLength="52.9" lengthAdjust="spacingAndGlyphs" dominant-baseline="central">Output day 5 after</text>
<text x="404.4" y="459.75" font-size="7.99" fill="#3a3a3a" textLength="68.3" lengthAdjust="spacingAndGlyphs" dominant-baseline="central">re- challenge with HL60</text>
<rect x="404.2" y="466.9" width="6.6" height="6.6" fill="#7c1f87" stroke="none" stroke-width="1"/>
<text x="413.5" y="470.3" font-size="7.99" fill="#3a3a3a" textLength="44.8" lengthAdjust="spacingAndGlyphs" dominant-baseline="central">GPR56+CD27–</text>
<rect x="404.2" y="477.0" width="6.6" height="6.6" fill="#5b6cb6" stroke="none" stroke-width="1"/>
<text x="413.5" y="480.40000000000003" font-size="7.99" fill="#3a3a3a" textLength="44.8" lengthAdjust="spacingAndGlyphs" dominant-baseline="central">GPR56+CD27+</text>
<rect x="404.2" y="486.8" width="6.6" height="6.6" fill="#17a2b6" stroke="none" stroke-width="1"/>
<text x="413.5" y="490.20000000000005" font-size="7.99" fill="#3a3a3a" textLength="44.8" lengthAdjust="spacingAndGlyphs" dominant-baseline="central">GPR56–CD27+</text>
<rect x="404.2" y="496.9" width="6.6" height="6.6" fill="#4cb963" stroke="none" stroke-width="1"/>
<text x="413.5" y="500.3" font-size="7.99" fill="#3a3a3a" textLength="44.8" lengthAdjust="spacingAndGlyphs" dominant-baseline="central">GPR56–CD27–</text>
</svg></body></html>
